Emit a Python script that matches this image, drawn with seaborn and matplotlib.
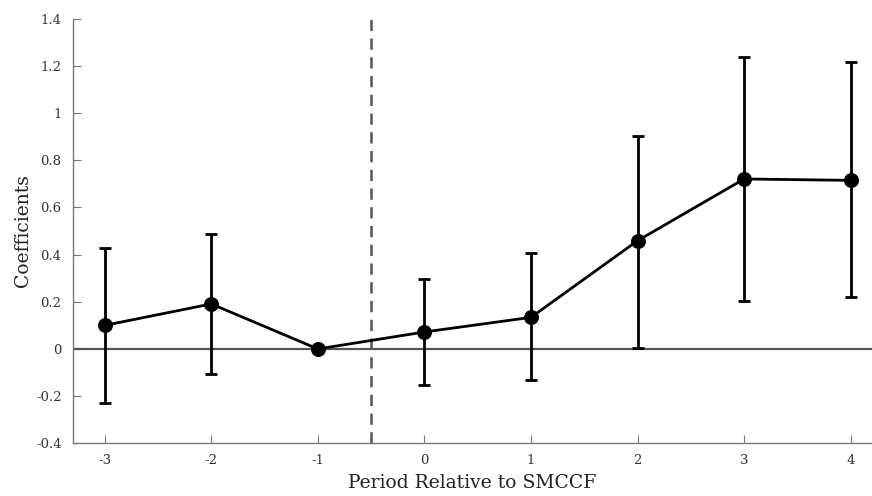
import matplotlib
matplotlib.use('Agg')

import pandas as pd
import matplotlib.pyplot as plt
import seaborn as sns

# -------------------------------
# Event-study coefficients
# -------------------------------
periods = [-3, -2, -1, 0, 1, 2, 3, 4]
period_labels = ["-3", "-2", "-1", "0", "1", "2", "3", "4"]
coefs = [0.100, 0.191, 0.0, 0.072, 0.134, 0.459, 0.721, 0.715]
ci_low = [-0.228, -0.107, 0.0, -0.153, -0.133, 0.006, 0.202, 0.219]
ci_high = [0.428, 0.487, 0.0, 0.297, 0.407, 0.902, 1.238, 1.215]
y_ticks = [-0.4, -0.2, 0, 0.2, 0.4, 0.6, 0.8, 1, 1.2, 1.4]
y_labels = ["-0.4", "-0.2", "0", "0.2", "0.4", "0.6", "0.8", "1", "1.2", "1.4"]

df = pd.DataFrame({"period": periods, "coef": coefs, "lo": ci_low, "hi": ci_high})

sns.set_style("ticks")
plt.rcParams['font.family'] = ['DejaVu Serif']

fig = plt.figure(figsize=(8.72, 4.96), dpi=100)
ax = fig.add_axes([0.0834, 0.1063, 0.9166, 0.8557])

# reference lines
ax.axhline(0, color="#555555", lw=1.6, zorder=1)
ax.axvline(-0.5, color="#555555", lw=1.8, ls=(0, (4.5, 3)), zorder=1)

# confidence intervals
ax.errorbar(df["period"], df["coef"],
            yerr=[df["coef"] - df["lo"], df["hi"] - df["coef"]],
            fmt="none", ecolor="black", elinewidth=2, capsize=4, capthick=2, zorder=2)

# point estimates
sns.lineplot(data=df, x="period", y="coef", color="black", lw=2,
             marker="o", markersize=10, markeredgecolor="black", ax=ax, zorder=3)

ax.set_xlim(-3.3, 4.2)
ax.set_ylim(-0.4, 1.4)
ax.set_xticks(periods)
ax.set_xticklabels(period_labels)
ax.set_yticks(y_ticks)
ax.set_yticklabels(y_labels)

ax.set_xlabel("Period Relative to SMCCF", fontsize=13.5, color="#222222", labelpad=5)
ax.set_ylabel("Coefficients", fontsize=13.5, color="#222222", labelpad=3)

ax.tick_params(direction="in", length=6, width=0.8, colors="#777777",
               labelcolor="#333333", labelsize=9.5, pad=8)
for side in ["left", "bottom"]:
    ax.spines[side].set_color("#777777")
    ax.spines[side].set_linewidth(1.0)
sns.despine(ax=ax)

fig.savefig("out.png", dpi=100)
